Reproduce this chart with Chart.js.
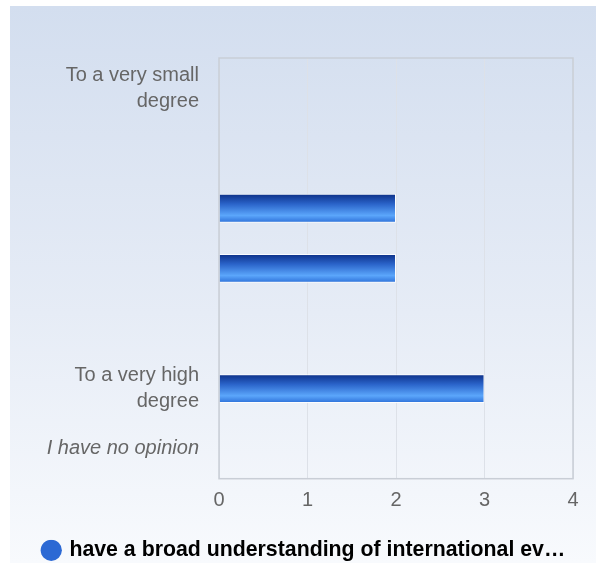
<!DOCTYPE html>
<html>
<head>
<meta charset="utf-8">
<script src="https://cdn.jsdelivr.net/npm/chart.js@4"></script>
<style>
  body { margin: 0; background: #ffffff; }
  #panel {
    position: absolute;
    left: 10px;
    top: 6px;
    width: 586px;
    height: 557px;
    background: linear-gradient(to bottom, #d3deef 0%, #e6ecf6 55%, #f8fafd 100%);
  }
</style>
</head>
<body>
<div id="panel"><canvas id="barChart" width="586" height="557"></canvas></div>
<script>
const categories = [
  ['To a very small', 'degree'],
  '',
  '',
  '',
  '',
  ['To a very high', 'degree'],
  'I have no opinion'
];

const counts = [0, 0, 2, 2, 0, 3, 0];

const seriesName = 'have a broad understanding of international ev\u2026';

const xTicks = [0, 1, 2, 3, 4];

const barShare = 0.48;

const fontFamily = 'Liberation Sans, Arial, sans-serif';

// blue tube gradient for each bar, built from the y scale position
function barFill(context) {
  const chart = context.chart;
  const yScale = chart.scales.y;
  if (!chart.chartArea || !yScale) {
    return '#2a66d0';
  }
  const center = yScale.getPixelForValue(context.dataIndex);
  const half = (yScale.height / categories.length) * barShare / 2;
  const g = chart.ctx.createLinearGradient(0, center - half, 0, center + half);
  g.addColorStop(0, '#0c2f86');
  g.addColorStop(0.35, '#2a63c9');
  g.addColorStop(0.75, '#5ba6fb');
  g.addColorStop(1, '#2c6fd8');
  return g;
}

// frame around the plot area
const plotFrame = {
  id: 'plotFrame',
  afterDraw(chart) {
    const a = chart.chartArea;
    const ctx = chart.ctx;
    ctx.save();
    ctx.strokeStyle = '#c9ced6';
    ctx.lineWidth = 1.5;
    ctx.strokeRect(a.left, a.top, a.right - a.left, a.bottom - a.top);
    ctx.restore();
  }
};

new Chart(document.getElementById('barChart'), {
  type: 'bar',
  data: {
    labels: categories,
    datasets: [{
      label: seriesName,
      data: counts,
      backgroundColor: barFill,
      borderColor: 'rgba(255,255,255,0.85)',
      borderWidth: 1,
      categoryPercentage: 1,
      barPercentage: barShare
    }]
  },
  plugins: [plotFrame],
  options: {
    indexAxis: 'y',
    responsive: false,
    animation: false,
    layout: {
      padding: { top: 52, right: 23, left: 26, bottom: -8 }
    },
    scales: {
      x: {
        min: 0,
        max: 4,
        afterBuildTicks: (scale) => {
          scale.ticks = xTicks.map(v => ({ value: v }));
        },
        afterFit: (scale) => { scale.height = 61; },
        grid: {
          color: '#dde1e8',
          drawTicks: false
        },
        border: { display: false },
        ticks: {
          color: '#666666',
          padding: 10,
          font: { family: fontFamily, size: 20 }
        }
      },
      y: {
        afterFit: (scale) => { scale.width = 183; },
        grid: { display: false, drawTicks: false },
        border: { display: false },
        ticks: {
          color: '#666666',
          padding: 20,
          font: (ctx) => ({
            family: fontFamily,
            size: 20,
            style: ctx.index === 6 ? 'italic' : 'normal',
            lineHeight: 1.3
          })
        }
      }
    },
    plugins: {
      tooltip: { enabled: false },
      legend: {
        position: 'bottom',
        labels: {
          usePointStyle: true,
          pointStyle: 'circle',
          boxWidth: 15,
          boxHeight: 15,
          color: '#333333',
          padding: 0,
          font: { family: fontFamily, size: 21.3, weight: 'bold' },
          generateLabels: (chart) => [{
            text: seriesName,
            fillStyle: '#2c69d4',
            strokeStyle: '#2c69d4',
            lineWidth: 0,
            pointStyle: 'circle',
            datasetIndex: 0
          }]
        }
      }
    }
  }
});
</script>
</body>
</html>
